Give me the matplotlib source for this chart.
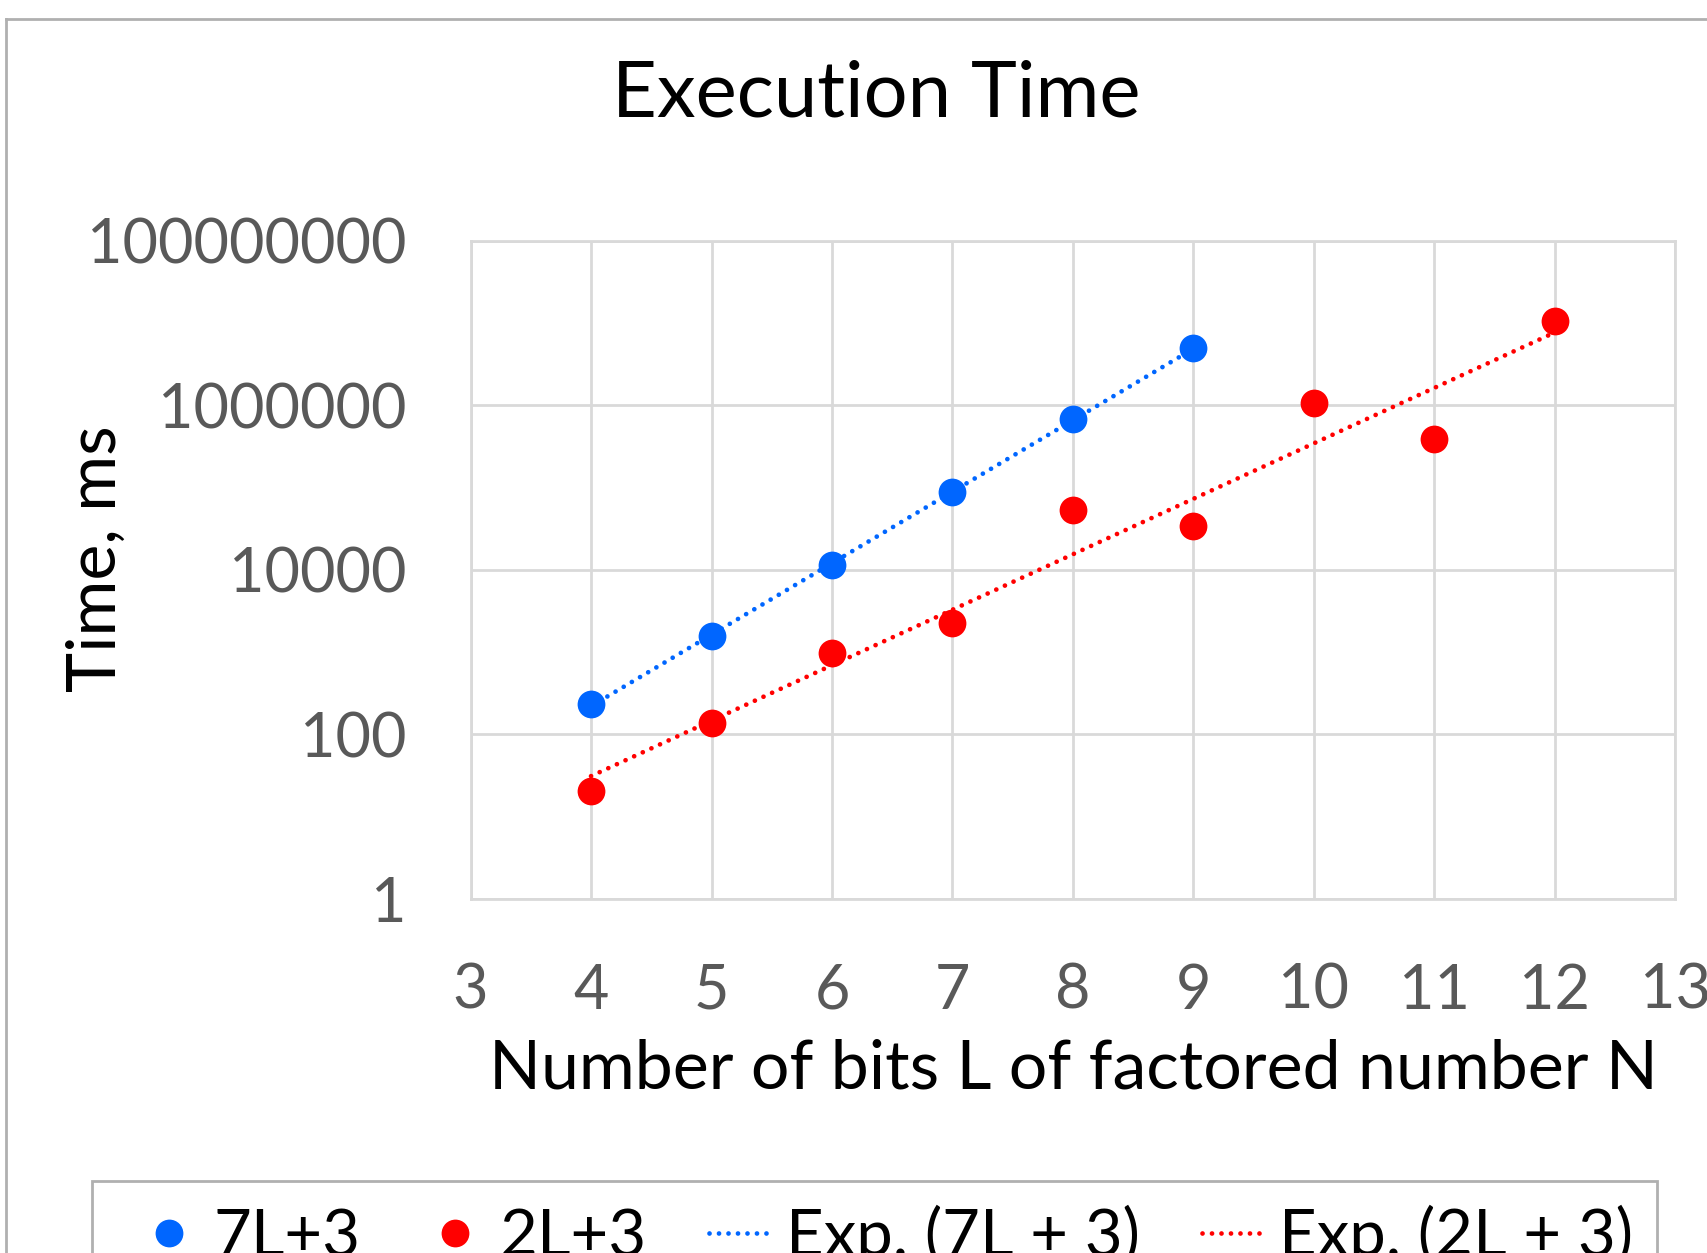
import numpy as np
import matplotlib.pyplot as plt
from matplotlib.lines import Line2D
from matplotlib.patches import Rectangle

plt.rcParams['font.family'] = ['Lato', 'DejaVu Sans']

# data (execution time in ms)
bits_7l = [4, 5, 6, 7, 8, 9]
time_7l = [235, 1560, 11300, 87000, 670000, 5.0e6]
bits_2l = [4, 5, 6, 7, 8, 9, 10, 11, 12]
time_2l = [20.5, 136, 980, 2240, 53500, 34000, 1.07e6, 389000, 1.05e7]

yticks = [1, 100, 10000, 1000000, 100000000]
xticks = list(range(3, 14))

blue = '#0066ff'
red = '#ff0000'
grid_c = '#d9d9d9'
label_c = '#595959'


def exp_trend(x, y):
    # Excel style exponential trendline: straight fit of ln(y)
    b, a = np.polyfit(x, np.log(y), 1)
    xs = np.linspace(min(x), max(x), 50)
    return xs, np.exp(a + b * xs)


fig = plt.figure(figsize=(17.08, 12.53), dpi=100)
ax = fig.add_axes([0.2755, 0.2828, 0.7054, 0.5251])

dots = (0, (0.01, 2.0))
ax.plot(bits_7l, time_7l, 'o', color=blue, ms=20, mew=0, zorder=3, label='7L+3')
ax.plot(bits_2l, time_2l, 'o', color=red, ms=20, mew=0, zorder=3, label='2L+3')
tx, ty = exp_trend(bits_7l, time_7l)
ax.plot(tx, ty, color=blue, lw=3.4, ls=dots, dash_capstyle='round',
        zorder=2, label='Exp. (7L + 3)')
tx, ty = exp_trend(bits_2l, time_2l)
ax.plot(tx, ty, color=red, lw=3.4, ls=dots, dash_capstyle='round',
        zorder=2, label='Exp. (2L + 3)')

ax.set_yscale('log')
ax.set_ylim(1, 1e8)
ax.set_xlim(3, 13)
ax.set_yticks(yticks)
ax.set_yticklabels([str(v) for v in yticks])
ax.minorticks_off()
ax.set_xticks(xticks)
ax.grid(True, color=grid_c, lw=2)
ax.set_axisbelow(True)
for s in ax.spines.values():
    s.set_color(grid_c)
    s.set_linewidth(2)
ax.tick_params(length=0, labelsize=44, labelcolor=label_c)
ax.tick_params(axis='y', pad=46)
ax.tick_params(axis='x', pad=46)

ax.set_xlabel('Number of bits L of factored number N', fontsize=49, labelpad=14)
fig.text(0.0565, 0.554, 'Time, ms', fontsize=49, rotation=90, ha='center', va='center')

fig.text(0.513, 0.924, 'Execution Time', fontsize=56, ha='center', va='center')

# outer chart border (cropped on right/bottom)
fig.add_artist(Line2D([0.0038, 0.0038], [0, 0.985], color='#b0b0b0', lw=2))
fig.add_artist(Line2D([0.0038, 1.0], [0.985, 0.985], color='#b0b0b0', lw=2))

# legend frame
fig.add_artist(Rectangle((0.0536, -0.1), 0.9166, 0.1574, fill=False,
                         edgecolor='#b0b0b0', lw=2))
h, l = ax.get_legend_handles_labels()
fig.legend(h, l, loc='center', bbox_to_anchor=(0.518, 0.0136), ncol=4,
           frameon=False, fontsize=47, handlelength=1.0, handletextpad=0.18,
           columnspacing=0.95, markerscale=1.0)

fig.savefig('out.png', dpi=100)
